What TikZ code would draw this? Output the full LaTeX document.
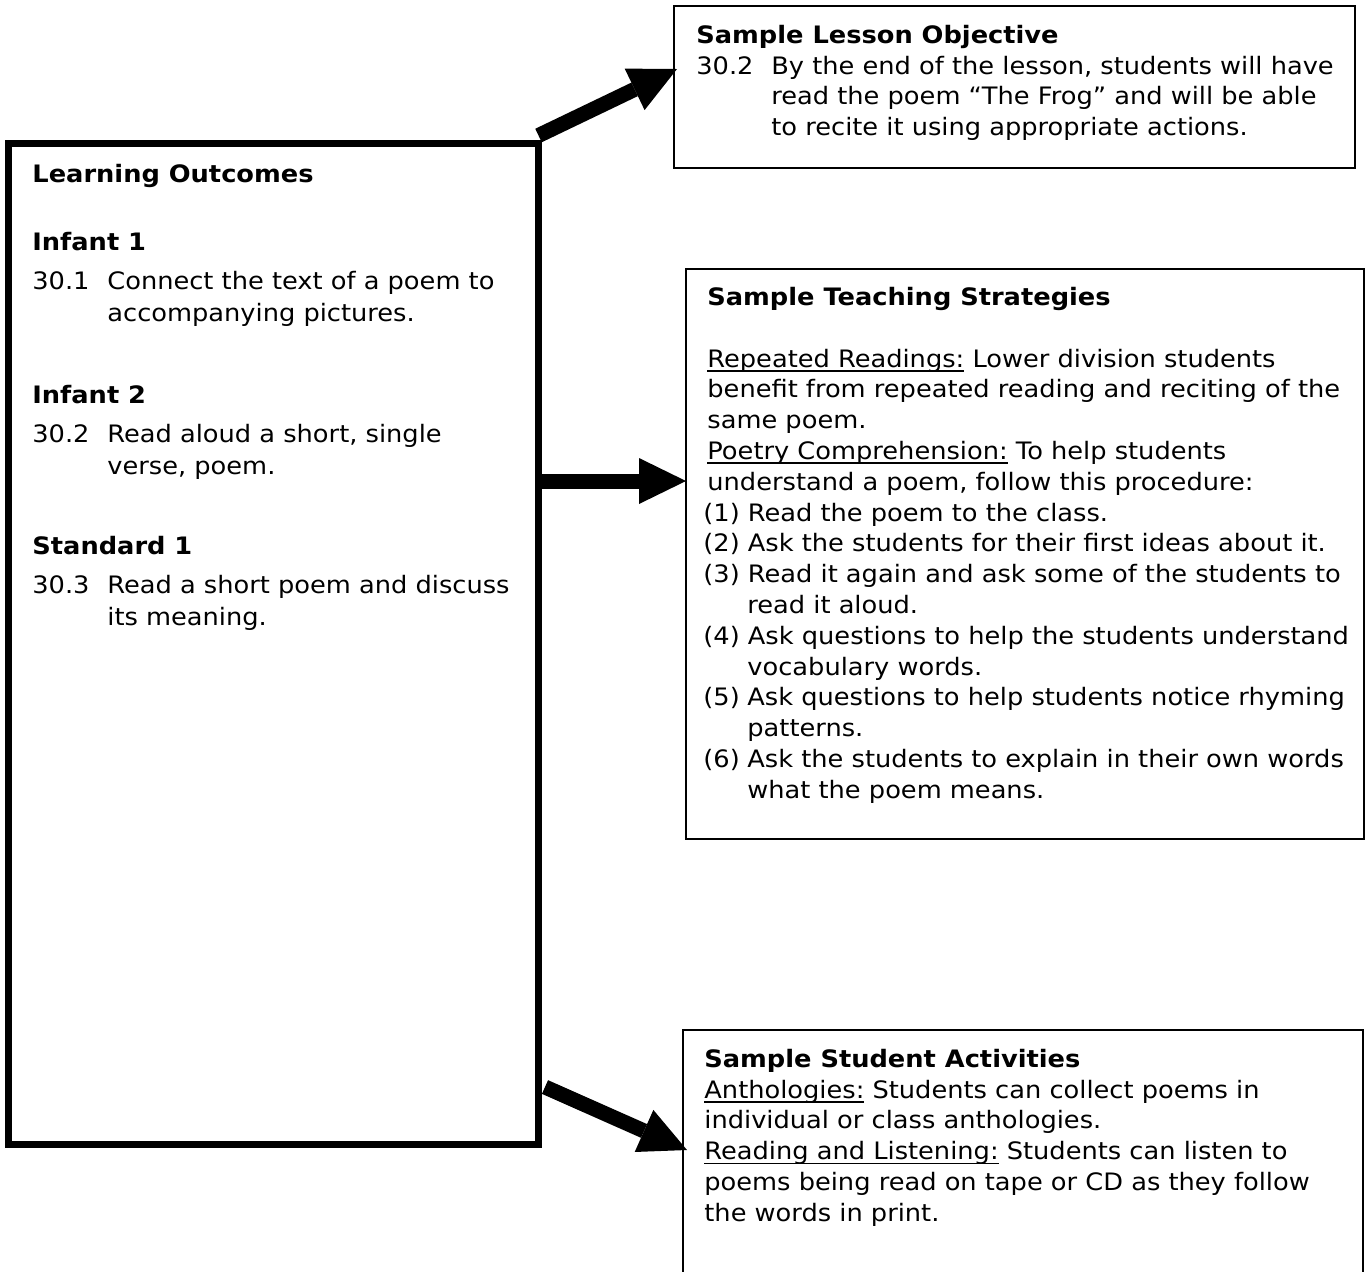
\documentclass[tikz,border=0pt]{standalone}
\usepackage{fontspec}
\setmainfont{DejaVu Sans}[FakeStretch=1.07]
\usetikzlibrary{arrows.meta}

\newcommand{\ulword}[1]{\leavevmode\setbox0\hbox{#1}\rlap{\rule[-2.4pt]{\wd0}{0.9pt}}\box0\relax}
\newcommand{\itemno}[1]{\makebox[37.5pt][l]{#1}}
\newcommand{\contind}{\hspace*{37.5pt}}

\begin{document}
\begin{tikzpicture}[x=0.5pt, y=-0.5pt,
  box/.style={draw, line width=1pt, anchor=north west, inner sep=0pt, outer sep=0pt},
  bigbox/.style={box, line width=3.5pt},
  txt/.style={anchor=base west, inner sep=0pt, font=\fontsize{12}{15.4}\selectfont},
  ltxt/.style={txt, font=\fontsize{12}{16}\selectfont},
  head/.style={txt, font=\fontsize{12}{15.4}\selectfont\bfseries},
  bigarrow/.style={line width=7.5pt, -{Triangle[length=23.5pt, width=23pt, line width=0pt]}}]
  \useasboundingbox (0,0) rectangle (1365,1271);
  \clip (0,0) rectangle (1365,1271);

  % boxes
  \node[bigbox, minimum width=265pt, minimum height=500.25pt] (outcomes) at (8.5,143.5) {};
  \node[box, minimum width=340.5pt, minimum height=81pt] (objective) at (674,6) {};
  \node[box, minimum width=339pt, minimum height=285pt] (strategies) at (686,269) {};
  \node[box, minimum width=340pt, minimum height=135pt] (activities) at (683,1030) {};

  % learning outcomes
  \node[head] (outtitle) at (32,182) {Learning Outcomes};
  \node[head] (inf1) at (32,250) {Infant 1};
  \node[ltxt] (inf1text) at (32,289) {\parbox[t]{255pt}{\itemno{30.1}Connect the text of a poem to\\
    \contind accompanying pictures.}};
  \node[head] (inf2) at (32,403) {Infant 2};
  \node[ltxt] (inf2text) at (32,442) {\parbox[t]{255pt}{\itemno{30.2}Read aloud a short, single\\
    \contind verse, poem.}};
  \node[head] (std1) at (32,554) {Standard 1};
  \node[ltxt] (std1text) at (32,593) {\parbox[t]{255pt}{\itemno{30.3}Read a short poem and discuss\\
    \contind its meaning.}};

  % objective
  \node[head] (objtitle) at (696,43) {Sample Lesson Objective};
  \node[txt, font=\fontsize{12}{15.25}\selectfont] (objtext) at (696,74) {\parbox[t]{330pt}{\itemno{30.2}By the end of the lesson, students will have\\
    \contind read the poem “The Frog” and will be able\\
    \contind to recite it using appropriate actions.}};

  % strategies
  \node[head] (strattitle) at (707,305) {Sample Teaching Strategies};
  \node[txt] (strattext) at (707,367) {\parbox[t]{340pt}{\ulword{Repeated Readings:} Lower division students\\
    benefit from repeated reading and reciting of the\\
    same poem.\\
    \ulword{Poetry Comprehension:} To help students\\
    understand a poem, follow this procedure:\\
    \hspace*{-2pt}(1) Read the poem to the class.\\
    \hspace*{-2pt}(2) Ask the students for their first ideas about it.\\
    \hspace*{-2pt}(3) Read it again and ask some of the students to\\
    \hspace*{20pt}read it aloud.\\
    \hspace*{-2pt}(4) Ask questions to help the students understand\\
    \hspace*{20pt}vocabulary words.\\
    \hspace*{-2pt}\makebox[22pt][l]{(5)}Ask questions to help students notice rhyming\\
    \hspace*{20pt}patterns.\\
    \hspace*{-2pt}\makebox[22pt][l]{(6)}Ask the students to explain in their own words\\
    \hspace*{20pt}what the poem means.}};

  % activities
  \node[head] (acttitle) at (704,1067) {Sample Student Activities};
  \node[txt] (acttext) at (704,1098) {\parbox[t]{340pt}{\ulword{Anthologies:} Students can collect poems in\\
    individual or class anthologies.\\
    \ulword{Reading and Listening:} Students can listen to\\
    poems being read on tape or CD as they follow\\
    the words in print.}};

  % arrows
  \draw[bigarrow] ([shift={(0,-8)}]outcomes.north east) -- ([shift={(3,-18)}]objective.west);
  \draw[bigarrow] ([shift={(0,337.5)}]outcomes.north east) -- ([shift={(0,-73)}]strategies.west);
  \draw[bigarrow] ([shift={(6.5,-57)}]outcomes.south east) -- ([shift={(4,120)}]activities.north west);
\end{tikzpicture}
\end{document}
